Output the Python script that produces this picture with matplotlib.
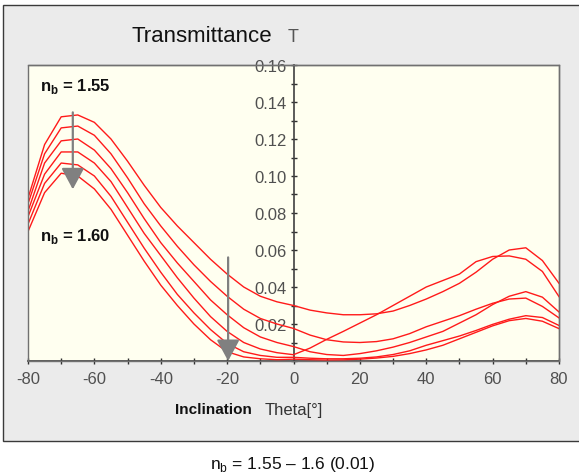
import matplotlib
matplotlib.use("Agg")
import matplotlib.pyplot as plt
from matplotlib.patches import Rectangle
from matplotlib.ticker import MultipleLocator, FixedLocator

plt.rcParams['font.family'] = ['Liberation Sans', 'DejaVu Sans']
plt.rcParams['mathtext.fontset'] = 'custom'
plt.rcParams['mathtext.rm'] = 'Liberation Sans'
plt.rcParams['mathtext.bf'] = 'Liberation Sans:bold'

# ---- data ----
theta = [-80, -75, -70, -65, -60, -55, -50, -45, -40, -35, -30, -25, -20, -15, -10, -5, 0,
         5, 10, 15, 20, 25, 30, 35, 40, 45, 50, 55, 60, 65, 70, 75, 80]

T_155 = [0.088, 0.117, 0.132, 0.133, 0.129, 0.120, 0.108, 0.095, 0.083, 0.073, 0.064, 0.055, 0.047, 0.040, 0.035, 0.032, 0.030,
         0.0275, 0.026, 0.025, 0.025, 0.0255, 0.027, 0.030, 0.0335, 0.0375, 0.042, 0.048, 0.055, 0.060, 0.0612, 0.0543, 0.042]
T_156 = [0.085, 0.112, 0.126, 0.127, 0.122, 0.112, 0.099, 0.085, 0.073, 0.062, 0.052, 0.043, 0.035, 0.028, 0.023, 0.020, 0.0176,
         0.014, 0.0115, 0.0103, 0.010, 0.0105, 0.012, 0.0148, 0.0185, 0.0215, 0.0245, 0.028, 0.0312, 0.0335, 0.034, 0.0295, 0.0233]
T_157 = [0.081, 0.107, 0.119, 0.120, 0.114, 0.104, 0.091, 0.077, 0.064, 0.053, 0.043, 0.033, 0.025, 0.018, 0.013, 0.010, 0.0078,
         0.005, 0.0035, 0.003, 0.004, 0.0055, 0.0075, 0.010, 0.013, 0.016, 0.0205, 0.025, 0.0305, 0.035, 0.0375, 0.0345, 0.0265]
T_158 = [0.078, 0.101, 0.113, 0.113, 0.107, 0.097, 0.083, 0.069, 0.057, 0.045, 0.034, 0.024, 0.016, 0.010, 0.0065, 0.0045, 0.0034,
         0.007, 0.0117, 0.016, 0.0205, 0.025, 0.030, 0.035, 0.040, 0.0435, 0.047, 0.0537, 0.0565, 0.0568, 0.055, 0.0484, 0.0348]
T_159 = [0.074, 0.096, 0.107, 0.106, 0.100, 0.089, 0.075, 0.061, 0.048, 0.036, 0.026, 0.017, 0.0095, 0.005, 0.003, 0.002, 0.002,
         0.0015, 0.0012, 0.0012, 0.0015, 0.0022, 0.0035, 0.0055, 0.0085, 0.011, 0.0135, 0.0165, 0.0198, 0.0226, 0.0245, 0.0235, 0.0192]
T_160 = [0.070, 0.091, 0.1015, 0.100, 0.093, 0.082, 0.068, 0.054, 0.041, 0.030, 0.020, 0.0115, 0.005, 0.0022, 0.0012, 0.0007, 0.001,
         0.0007, 0.0005, 0.0006, 0.001, 0.0016, 0.0025, 0.004, 0.006, 0.0085, 0.012, 0.0155, 0.019, 0.0218, 0.023, 0.0215, 0.0175]

series = [T_155, T_156, T_157, T_158, T_159, T_160]

x_ticks = [-80, -60, -40, -20, 0, 20, 40, 60, 80]
y_ticks = [0.02, 0.04, 0.06, 0.08, 0.10, 0.12, 0.14, 0.16]
y_tick_labels = ["0.02", "0.04", "0.06", "0.08", "0.10", "0.12", "0.14", "0.16"]

W, H = 579, 477
fig = plt.figure(figsize=(W / 100, H / 100), dpi=100)
fig.patch.set_facecolor('white')

# grey panel
panel = Rectangle((3 / W, 1 - 442 / H), 1.2, (442 - 6) / H, transform=fig.transFigure,
                  facecolor='#ebebeb', edgecolor='#3a3a3a', linewidth=1.0, zorder=-10)
fig.patches.append(panel)

ax = fig.add_axes([28 / W, 1 - 362 / H, (559 - 28) / W, (362 - 66) / H])
ax.set_zorder(1)
ax.set_facecolor('#fffff0')
ax.set_xlim(-80, 80)
ax.set_ylim(0, 0.16)

for ys in series:
    ax.plot(theta, ys, color='#ff1a1a', linewidth=1.0, zorder=3)

# frame
for s in ['top', 'right']:
    ax.spines[s].set_color('#707070')
    ax.spines[s].set_linewidth(1.0)
ax.spines['bottom'].set_color('#404040')
ax.spines['bottom'].set_linewidth(1.2)
ax.spines['left'].set_position(('data', 0))
ax.spines['left'].set_color('#404040')
ax.spines['left'].set_linewidth(1.2)
ax.add_patch(Rectangle((0, 0), 1, 1, transform=ax.transAxes, fill=False,
                       edgecolor='#707070', linewidth=1.0, zorder=5, clip_on=False))

ax.xaxis.set_major_locator(FixedLocator(x_ticks))
ax.xaxis.set_minor_locator(MultipleLocator(10))
ax.set_xticklabels([str(v) for v in x_ticks])
ax.yaxis.set_major_locator(FixedLocator(y_ticks))
ax.yaxis.set_minor_locator(MultipleLocator(0.01))
ax.set_yticklabels(y_tick_labels)

ax.tick_params(axis='both', which='both', direction='inout', length=4.5, width=1.0, color='#303030')
ax.tick_params(axis='x', labelsize=12, labelcolor='#505050', pad=5)
ax.tick_params(axis='y', labelsize=12, labelcolor='#505050', pad=2.5)

# arrows
ax.annotate('', xy=(-66.5, 0.0928), xytext=(-66.5, 0.1344),
            arrowprops=dict(arrowstyle='-|>,head_length=13,head_width=7', mutation_scale=1,
                            color='#808080', lw=1.6, shrinkA=0, shrinkB=0), zorder=6)
ax.annotate('', xy=(-19.7, 0.0), xytext=(-19.7, 0.056),
            arrowprops=dict(arrowstyle='-|>,head_length=13,head_width=7', mutation_scale=1,
                            color='#808080', lw=1.6, shrinkA=0, shrinkB=0), zorder=6, annotation_clip=False)

# texts
def fx(px):
    return px / W

def fy(py):
    return 1 - py / H

fig.text(fx(131), fy(37), 'Transmittance', fontsize=16, color='#111111', va='center', ha='left')
fig.text(fx(288), fy(38), 'T', fontsize=13, color='#555555', va='center', ha='left')
fig.text(fx(40), fy(87), r'n$_\mathregular{b}$ = 1.55', fontsize=12, fontweight='bold', color='#111111', va='center', ha='left', zorder=10)
fig.text(fx(40), fy(237), r'n$_\mathregular{b}$ = 1.60', fontsize=12, fontweight='bold', color='#111111', va='center', ha='left', zorder=10)
fig.text(fx(175), fy(410), 'Inclination', fontsize=11, fontweight='bold', color='#111111', va='center', ha='left')
fig.text(fx(265), fy(411), 'Theta[°]', fontsize=12, color='#333333', va='center', ha='left')
fig.text(fx(293), fy(465), r'n$_\mathregular{b}$ = 1.55 – 1.6 (0.01)', fontsize=12.5, color='#111111', va='center', ha='center')

fig.savefig('out.png', dpi=100)
